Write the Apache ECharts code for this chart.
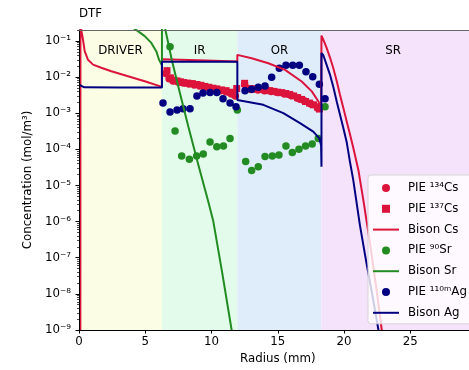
<!DOCTYPE html>
<html>
<head>
<meta charset="utf-8">
<script src="https://cdn.jsdelivr.net/npm/echarts@6/dist/echarts.min.js"></script>
<style>
  html, body { margin: 0; padding: 0; background: #ffffff; }
  #chart { width: 469px; height: 370px; }
</style>
</head>
<body>
<div id="chart"></div>
<script>
// Fuel regions (radius in mm)
const regionEdges = [0, 6.26, 11.95, 18.3, 30];
const regionNames = ['DRIVER', 'IR', 'OR', 'SR'];
const regionColors = ['#fbfde5', '#e3fbea', '#dfedfb', '#f5e2fb'];

// Axis ticks
const yTickValues = [1e-9, 1e-8, 1e-7, 1e-6, 1e-5, 1e-4, 1e-3, 1e-2, 1e-1];
const yTickLabels = ['10⁻⁹', '10⁻⁸', '10⁻⁷', '10⁻⁶', '10⁻⁵', '10⁻⁴', '10⁻³', '10⁻²', '10⁻¹'];
const yMinorSteps = [2, 3, 4, 5, 6, 7, 8, 9];
const yMin = 1e-9;
const yMax = 0.2;

// PIE 134Cs
const cs134R = [6.55, 6.8, 7.1, 7.5, 7.9, 8.3, 8.7, 9.1, 9.5, 9.9, 10.3, 10.7, 11.1, 11.5, 11.8,
                12.5, 13.0, 13.5, 14.0, 14.5, 15.0, 15.5, 16.0, 16.5, 17.0, 17.5, 18.0];
const cs134C = [0.0125, 0.0090, 0.0078, 0.0072, 0.0068, 0.0064, 0.0060, 0.0056, 0.0052, 0.0048, 0.0045, 0.0042, 0.0039, 0.0034, 0.0030,
                0.0062, 0.0045, 0.0044, 0.0042, 0.0040, 0.0037, 0.0034, 0.0031, 0.0026, 0.0022, 0.0018, 0.0014];

// PIE 137Cs
const cs137R = [6.64, 6.9, 7.15, 7.4, 7.65, 7.9, 8.2, 8.55, 8.9, 9.2, 9.5, 9.8, 10.1, 10.4, 10.75, 11.1, 11.4, 11.65, 11.9,
                12.5, 12.9, 13.2, 13.5, 13.8, 14.1, 14.4, 14.7, 15.0, 15.3, 15.6, 15.9, 16.2, 16.5, 16.8, 17.1, 17.4, 17.7, 18.0, 18.15];
const cs137C = [0.0150, 0.0095, 0.0082, 0.0078, 0.0074, 0.0070, 0.0068, 0.0066, 0.0062, 0.0059, 0.0055, 0.0052, 0.0049, 0.0047, 0.0044, 0.0042, 0.0038, 0.0035, 0.0048,
                0.0067, 0.0048, 0.0047, 0.0046, 0.0045, 0.0044, 0.0042, 0.0040, 0.0038, 0.0037, 0.0035, 0.0033, 0.0030, 0.0027, 0.0024, 0.0021, 0.0019, 0.0017, 0.0015, 0.0013];

// Bison Cs profile
const csLineR = [0.1, 0.11, 0.17, 0.30, 0.43, 0.68, 1.06, 1.68, 2.44, 3.70, 4.96, 6.09, 6.26,
                 6.26, 9.0, 11.95,
                 11.95, 13.03, 14.29, 15.55, 16.81, 17.57, 18.07, 18.27, 18.3,
                 18.3, 18.5, 18.69, 18.95, 19.19, 19.45, 19.70, 19.95, 20.20, 20.45, 20.70, 21.1, 21.5, 22.0, 22.5, 22.85, 23.2];
const csLineC = [1e-12, 1, 0.2, 0.109, 0.052, 0.030, 0.022, 0.018, 0.0144, 0.0105, 0.0076, 0.0056, 0.0053,
                 0.031, 0.029, 0.027,
                 0.041, 0.033, 0.024, 0.0158, 0.0075, 0.0040, 0.0021, 0.00123, 0.0011,
                 0.14, 0.095, 0.064, 0.034, 0.0178, 0.0078, 0.0032, 0.0014, 6.0e-4, 2.6e-4, 1.1e-4, 2.5e-5, 3.2e-6, 2e-7, 1e-8, 1e-9, 1e-10];

// PIE 90Sr
const sr90R = [6.87, 7.25, 7.75, 8.33, 8.88, 9.38, 9.89, 10.4, 10.9, 11.4, 11.95,
               12.58, 13.03, 13.53, 14.04, 14.59, 15.09, 15.62, 16.1, 16.6, 17.1, 17.6, 18.06, 18.57];
const sr90C = [0.069, 3.2e-4, 6.5e-5, 5.3e-5, 6.5e-5, 7.4e-5, 1.6e-4, 1.17e-4, 1.23e-4, 2.0e-4, 1.23e-3,
               4.6e-5, 2.6e-5, 3.3e-5, 6.3e-5, 6.5e-5, 6.9e-5, 1.23e-4, 8.1e-5, 1.0e-4, 1.23e-4, 1.4e-4, 2.0e-4, 1.5e-3];

// Bison Sr profile
const srLineR = [3.0, 3.5, 4.08, 4.45, 4.96, 5.46, 5.83, 6.04, 6.17, 6.26,
                 6.26, 6.49, 7.0, 7.62, 8.25, 9.0, 9.76, 10.14, 10.8, 11.52, 11.8];
const srLineC = [0.45, 0.32, 0.23, 0.186, 0.135, 0.088, 0.052, 0.030, 0.0245, 0.021,
                 0.56, 0.229, 0.0302, 0.00355, 4.27e-4, 3.8e-5, 3.55e-6, 1e-6, 4e-8, 1e-9, 2e-10];

// PIE 110mAg
const ag110R = [6.34, 6.87, 7.40, 7.85, 8.38, 8.9, 9.36, 9.89, 10.4, 10.87, 11.4, 11.85,
                12.53, 13.03, 13.53, 14.04, 14.54, 15.12, 15.62, 16.13, 16.63, 17.13, 17.64, 18.14, 18.57];
const ag110C = [0.0019, 0.00107, 0.00123, 0.00133, 0.00133, 0.0030, 0.0036, 0.0037, 0.0037, 0.0025, 0.0019, 0.0015,
                0.0042, 0.0046, 0.0052, 0.0056, 0.0098, 0.0174, 0.021, 0.021, 0.021, 0.0141, 0.0102, 0.0063, 0.0025];

// Bison Ag profile
const agLineR = [0, 0.15, 0.4, 3.0, 6.26,
                 6.26, 11.95,
                 11.95, 13.91, 15.42, 16.68, 17.68, 18.14, 18.27, 18.3,
                 18.3, 18.44, 18.94, 19.2, 19.45, 19.7, 19.95, 20.2, 20.45, 20.7, 21.2, 21.7, 22.2, 22.6, 23.0];
const agLineC = [0.0062, 0.0057, 0.0052, 0.0051, 0.0051,
                 0.0265, 0.0265,
                 0.0023, 0.0017, 1.0e-3, 5.3e-4, 3.1e-4, 2.0e-4, 1.3e-4, 3.3e-5,
                 0.046, 0.040, 0.0117, 0.0052, 0.0021, 9e-4, 3.9e-4, 1.6e-4, 4.5e-5, 1.4e-5, 8e-7, 7e-8, 7e-9, 1e-9, 1e-10];

const RED = '#dc143c';
const GREEN = '#228b22';
const NAVY = '#000080';
const FONT = 'DejaVu Sans';
const FS = 11.8;
const LINE_ICON = 'path://M0,0h26v2h-26z';
const SQUARE_ICON = 'path://M0,0h7v7h-7z';

const zip = (xs, ys) => xs.map((x, i) => [x, ys[i]]);

const yMinorValues = [];
yTickValues.forEach(v => yMinorSteps.forEach(k => {
  const t = v * k;
  if (t <= yMax) yMinorValues.push(t);
}));

function yLabel(v) {
  const i = yTickValues.findIndex(t => Math.abs(Math.log10(t) - Math.log10(v)) < 1e-6);
  return i >= 0 ? yTickLabels[i] : '';
}

const regionAreas = regionNames.map((name, i) => [
  {
    name: name,
    xAxis: regionEdges[i],
    itemStyle: { color: regionColors[i] },
    label: i === 3 ? { offset: [-6, 0] } : {}
  },
  { xAxis: regionEdges[i + 1] }
]);

const scatterBase = { type: 'scatter', symbolSize: 7.5, itemStyle: { opacity: 1 } };
const lineBase = { type: 'line', symbol: 'none', smooth: false, lineStyle: { width: 2 } };

const chart = echarts.init(document.getElementById('chart'), null, { renderer: 'canvas' });
chart.setOption({
  animation: false,
  textStyle: { fontFamily: FONT },
  title: {
    text: 'DTF',
    left: 74,
    top: 3,
    textStyle: { fontFamily: FONT, fontSize: FS, fontWeight: 'normal', color: '#000' }
  },
  grid: { left: 79, top: 30, right: -7.5, bottom: 40, outerBoundsMode: 'none', containLabel: false },
  legend: {
    orient: 'vertical',
    left: 368,
    top: 175,
    backgroundColor: 'rgba(255,255,255,0.8)',
    borderColor: '#d6d6d6',
    borderWidth: 1,
    borderRadius: 3,
    padding: [6, 10, 4, 5],
    itemWidth: 26,
    itemHeight: 8,
    itemGap: 6.8,
    symbolKeepAspect: true,
    textStyle: { fontFamily: FONT, fontSize: FS, color: '#000', lineHeight: 14, padding: [0, 0, 0, 4] },
    data: [
      { name: 'PIE ¹³⁴Cs', icon: 'circle' },
      { name: 'PIE ¹³⁷Cs', icon: SQUARE_ICON },
      { name: 'Bison Cs', icon: LINE_ICON },
      { name: 'PIE ⁹⁰Sr', icon: 'circle' },
      { name: 'Bison Sr', icon: LINE_ICON },
      { name: 'PIE ¹¹⁰ᵐAg', icon: 'circle' },
      { name: 'Bison Ag', icon: LINE_ICON }
    ]
  },
  xAxis: [
    {
      type: 'value',
      min: 0,
      max: 30,
      interval: 5,
      z: 10,
      name: 'Radius (mm)',
      nameLocation: 'middle',
      nameGap: 23,
      nameTextStyle: { fontFamily: FONT, fontSize: FS, color: '#000' },
      axisLine: { show: true, lineStyle: { color: '#000', width: 1 } },
      axisTick: { show: true, length: 3.5, lineStyle: { color: '#000' } },
      axisLabel: { fontFamily: FONT, fontSize: FS, color: '#000', margin: 6 },
      splitLine: { show: false }
    },
    {
      type: 'value',
      min: 0,
      max: 30,
      position: 'top',
      z: 10,
      axisLine: { show: true, lineStyle: { color: '#666', width: 1.2 } },
      axisTick: { show: false },
      axisLabel: { show: false },
      splitLine: { show: false }
    }
  ],
  yAxis: [
    {
      type: 'log',
      logBase: 10,
      min: yMin,
      max: yMax,
      z: 10,
      name: 'Concentration (mol/m³)',
      nameLocation: 'middle',
      nameGap: 44,
      nameTextStyle: { fontFamily: FONT, fontSize: FS, color: '#000' },
      axisLine: { show: true, lineStyle: { color: '#000', width: 1 } },
      axisTick: { show: true, length: 3.5, customValues: yTickValues, lineStyle: { color: '#000' } },
      axisLabel: { fontFamily: FONT, fontSize: FS, color: '#000', margin: 8, customValues: yTickValues, formatter: yLabel },
      splitLine: { show: false }
    },
    {
      type: 'log',
      logBase: 10,
      min: yMin,
      max: yMax,
      position: 'left',
      z: 10,
      axisLine: { show: false },
      axisTick: { show: true, length: 2, customValues: yMinorValues, lineStyle: { color: '#000', width: 0.7 } },
      axisLabel: { show: false },
      splitLine: { show: false }
    }
  ],
  series: [
    Object.assign({}, scatterBase, {
      name: 'PIE ¹³⁴Cs',
      symbol: 'circle',
      color: RED,
      data: zip(cs134R, cs134C),
      markArea: {
        silent: true,
        z: 1,
        label: {
          show: true,
          position: 'insideTop',
          distance: 15,
          fontFamily: FONT,
          fontSize: FS,
          color: '#000'
        },
        data: regionAreas
      }
    }),
    Object.assign({}, scatterBase, {
      name: 'PIE ¹³⁷Cs',
      symbol: 'rect',
      symbolSize: 7,
      color: RED,
      data: zip(cs137R, cs137C)
    }),
    Object.assign({}, lineBase, {
      name: 'Bison Cs',
      color: RED,
      data: zip(csLineR, csLineC)
    }),
    Object.assign({}, scatterBase, {
      name: 'PIE ⁹⁰Sr',
      symbol: 'circle',
      color: GREEN,
      data: zip(sr90R, sr90C)
    }),
    Object.assign({}, lineBase, {
      name: 'Bison Sr',
      color: GREEN,
      data: zip(srLineR, srLineC)
    }),
    Object.assign({}, scatterBase, {
      name: 'PIE ¹¹⁰ᵐAg',
      symbol: 'circle',
      color: NAVY,
      data: zip(ag110R, ag110C)
    }),
    Object.assign({}, lineBase, {
      name: 'Bison Ag',
      color: NAVY,
      data: zip(agLineR, agLineC)
    })
  ]
});
</script>
</body>
</html>
